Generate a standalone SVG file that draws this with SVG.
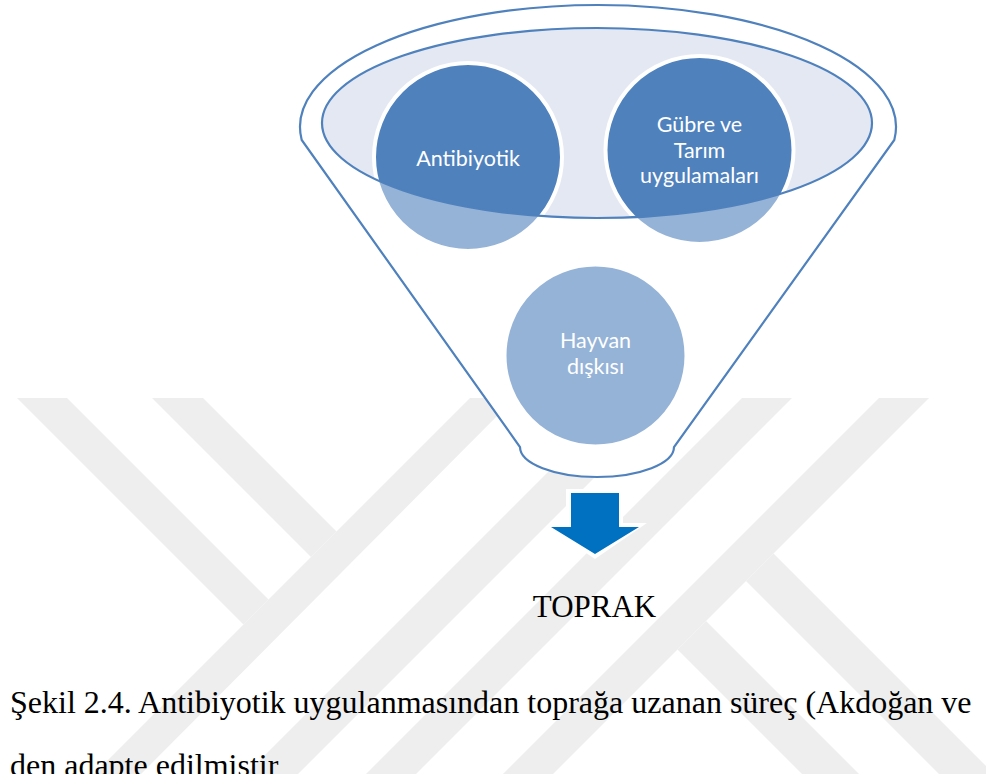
<svg xmlns="http://www.w3.org/2000/svg" width="986" height="774" viewBox="0 0 986 774">
<defs>
<style>
.wm{fill:#eeeeee}
.funnel{fill:#ffffff;stroke:#4f81bd;stroke-width:2.2}
.lid{fill:#e3e8f2}
.lidline{fill:none;stroke:#4f81bd;stroke-width:2.2}
.light{fill:#95b3d7}
.dark{fill:#4f81bd}
.ring{fill:none;stroke:#ffffff;stroke-width:4}
.lbl{font-family:Lato,"Open Sans",sans-serif;font-size:21.5px;fill:#ffffff;text-anchor:middle}
.serif{font-family:"Liberation Serif","Times New Roman",serif;fill:#000000}
</style>
<clipPath id="lidclip"><ellipse cx="597" cy="123" rx="275" ry="95"/></clipPath>
</defs>
<rect width="986" height="774" fill="#ffffff"/>
<g id="watermark">
<polygon class="wm" points="17,398 67,398 268.5,599.5 243.5,624.5"/>
<polygon class="wm" points="152,398 203,398 336.5,531.5 311,557"/>
<polygon class="wm" points="470,398 515,398 141,774 94,774"/>
<polygon class="wm" points="622,398 674,398 298,774 246,774"/>
<polygon class="wm" points="742,398 792,398 416,774 366,774"/>
<polygon class="wm" points="879,398 929,398 553,774 503,774"/>
<polygon class="wm" points="746,581 773.5,553.5 994,774 939,774"/>
<polygon class="wm" points="677.5,649.5 706,621 859,774 802,774"/>
</g>
<g id="funnel">
<path class="funnel" d="M301.7,140 A298,122 0 1 1 894.3,140 L674,447 A77,30 0 0 1 520,447 Z"/>
</g>
<g id="lid">
<ellipse class="lid" cx="597" cy="123" rx="275" ry="95"/>
</g>
<g id="node-antibiyotik">
<circle class="light" cx="468" cy="157" r="94"/>
<circle class="dark" cx="468" cy="157" r="94" clip-path="url(#lidclip)"/>
<circle class="ring" cx="468" cy="157" r="94"/>
<text class="lbl" x="468" y="166">Antibiyotik</text>
</g>
<g id="node-gubre">
<circle class="light" cx="699.5" cy="150" r="94"/>
<circle class="dark" cx="699.5" cy="150" r="94" clip-path="url(#lidclip)"/>
<circle class="ring" cx="699.5" cy="150" r="94"/>
<text class="lbl" x="699.5" y="132">Gübre ve</text>
<text class="lbl" x="699.5" y="158">Tarım</text>
<text class="lbl" x="699.5" y="183">uygulamaları</text>
</g>
<g id="node-hayvan">
<circle class="light" cx="595.5" cy="355.5" r="91"/>
<circle class="ring" cx="595.5" cy="355.5" r="91"/>
<text class="lbl" x="595.5" y="348">Hayvan</text>
<text class="lbl" x="595.5" y="374">dışkısı</text>
</g>
<g id="lid-outline">
<ellipse class="lidline" cx="597" cy="123" rx="275" ry="95"/>
</g>
<g id="connectors">
<path fill="#ffffff" d="M566,489 H623 V523 H647 L595,559 L547,527 H566 Z"/>
<path fill="#0070c0" d="M571,493 H619 V527 H639 L595,554 L551,527 H571 Z"/>
</g>
<g id="node-toprak">
<text class="serif" x="594.5" y="617" font-size="31" text-anchor="middle">TOPRAK</text>
</g>
<g id="caption">
<text class="serif" x="10" y="713" font-size="32">Şekil 2.4. Antibiyotik uygulanmasından toprağa uzanan süreç (Akdoğan ve</text>
<text class="serif" x="10" y="776" font-size="32">den adapte edilmiştir</text>
</g>
</svg>
